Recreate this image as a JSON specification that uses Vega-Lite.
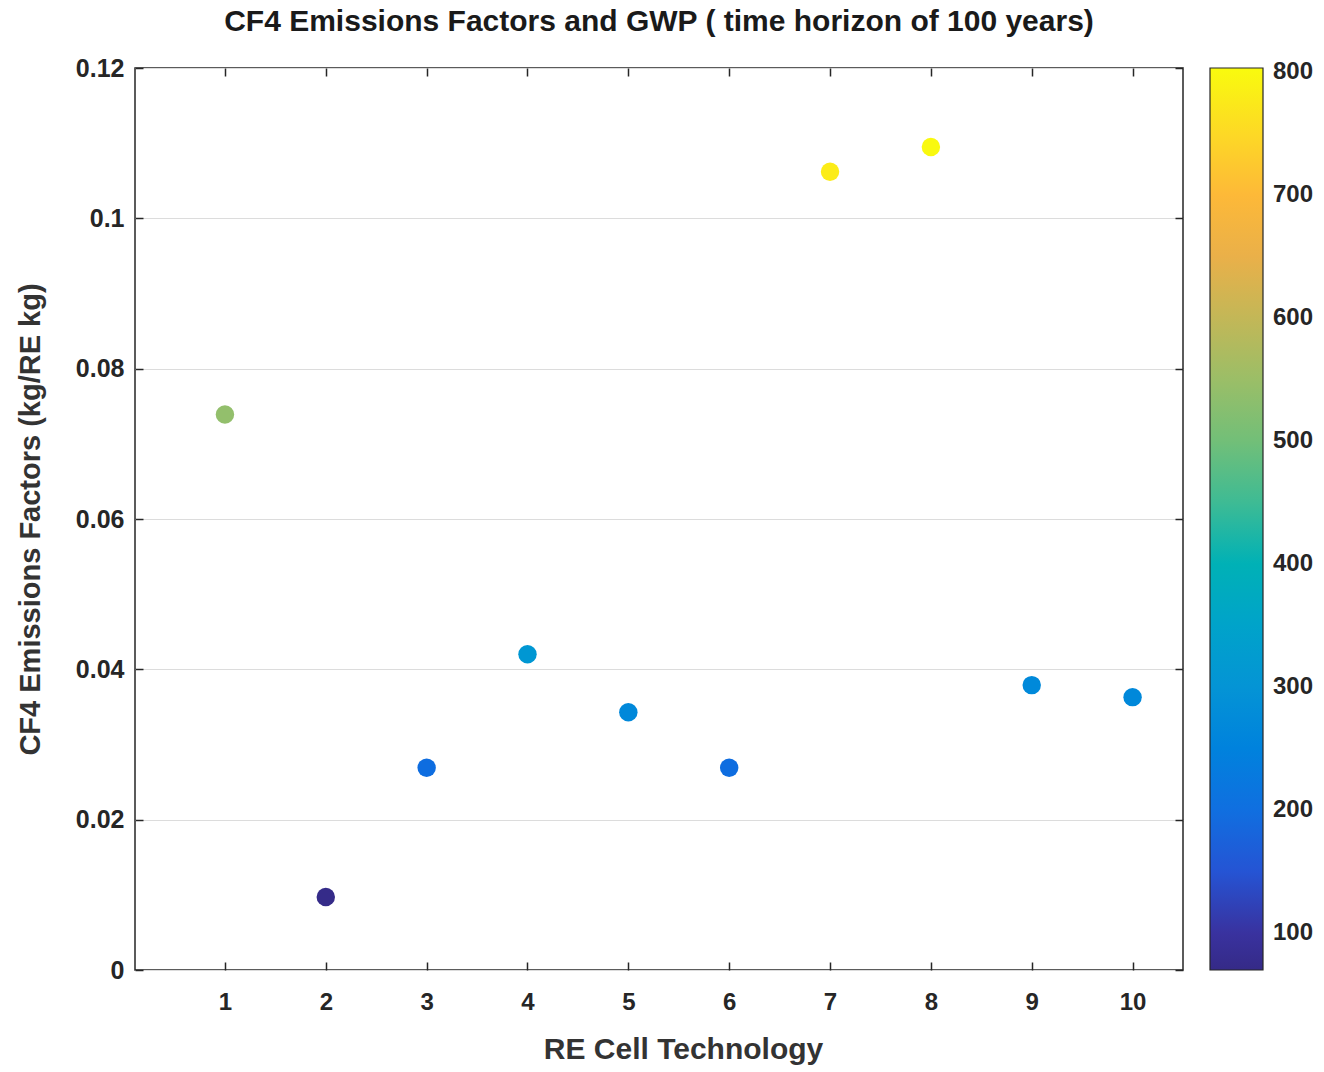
{
  "$schema": "https://vega.github.io/schema/vega-lite/v6.json",
  "autosize": {"type": "none"},
  "padding": {"left": 135, "top": 68, "right": 141, "bottom": 102},
  "width": 1048,
  "height": 902,
  "background": "white",
  "config": {
    "view": {"stroke": "#262626", "strokeWidth": 1.5},
    "font": "Liberation Sans"
  },
  "title": {
    "text": "CF4 Emissions Factors and GWP ( time horizon of 100 years)",
    "font": "Liberation Sans",
    "fontSize": 30,
    "fontWeight": "bold",
    "color": "#1a1a1a",
    "anchor": "middle",
    "offset": 19
  },
  "data": {
    "values": [
      {"tech": 1, "ef": 0.0739, "gwp": 540},
      {"tech": 2, "ef": 0.0097, "gwp": 72},
      {"tech": 3, "ef": 0.0269, "gwp": 195},
      {"tech": 4, "ef": 0.0420, "gwp": 310},
      {"tech": 5, "ef": 0.0343, "gwp": 265},
      {"tech": 6, "ef": 0.0269, "gwp": 195},
      {"tech": 7, "ef": 0.1062, "gwp": 780},
      {"tech": 8, "ef": 0.1095, "gwp": 800},
      {"tech": 9, "ef": 0.0379, "gwp": 268},
      {"tech": 10, "ef": 0.0363, "gwp": 265}
    ]
  },
  "resolve": {"axis": {"x": "independent", "y": "independent"}},
  "layer": [
    {
      "mark": {"type": "point", "filled": true, "opacity": 1, "size": 340, "shape": "circle", "strokeWidth": 0},
      "encoding": {
        "x": {
          "field": "tech", "type": "quantitative",
          "scale": {"domain": [0.108, 10.5], "nice": false, "zero": false},
          "axis": {
            "orient": "bottom",
            "values": [1, 2, 3, 4, 5, 6, 7, 8, 9, 10],
            "title": "RE Cell Technology",
            "titleFont": "Liberation Sans", "titleFontSize": 30, "titleFontWeight": "bold", "titleColor": "#333333",
            "titlePadding": 20,
            "titleX": 548,
            "labelFont": "Liberation Sans", "labelFontSize": 24, "labelFontWeight": "bold", "labelColor": "#262626",
            "labelPadding": 28,
            "tickSize": -8, "tickColor": "#262626", "tickWidth": 1.5,
            "domain": false, "grid": false
          }
        },
        "y": {
          "field": "ef", "type": "quantitative",
          "scale": {"domain": [0, 0.12], "nice": false, "zero": true},
          "axis": {
            "orient": "left",
            "values": [0, 0.02, 0.04, 0.06, 0.08, 0.1, 0.12],
            "labelExpr": "format(datum.value, '.2~f')",
            "title": "CF4 Emissions Factors (kg/RE kg)",
            "titleFont": "Liberation Sans", "titleFontSize": 29, "titleFontWeight": "bold", "titleColor": "#333333",
            "titlePadding": 30,
            "labelFont": "Liberation Sans", "labelFontSize": 25, "labelFontWeight": "bold", "labelColor": "#262626",
            "labelPadding": 19,
            "tickSize": -8, "tickColor": "#262626", "tickWidth": 1.5,
            "domain": false,
            "grid": true, "gridColor": "#dcdcdc", "gridWidth": 1.2
          }
        },
        "color": {
          "field": "gwp", "type": "quantitative",
          "scale": {
            "domain": [70, 111, 144, 168, 209, 290, 371, 436, 477, 534, 590, 647, 696, 737, 803],
            "range": ["#352a87", "#3a35a8", "#2a4fd0", "#0c62e0", "#1472e0", "#1790d6", "#14a9c4", "#30b89e", "#5cbf80", "#8ebf6f", "#bcb85b", "#e9b04a", "#fdb63a", "#fcd12a", "#f9fb0e"]
          },
          "legend": {
            "type": "gradient",
            "direction": "vertical",
            "orient": "none",
            "legendX": 1075,
            "legendY": 0,
            "gradientLength": 902,
            "gradientThickness": 53,
            "gradientStrokeColor": "#262626",
            "gradientStrokeWidth": 1.2,
            "values": [100, 200, 300, 400, 500, 600, 700, 800],
            "title": null,
            "labelFont": "Liberation Sans", "labelFontSize": 24, "labelFontWeight": "bold", "labelColor": "#262626",
            "labelOffset": 10
          }
        }
      }
    },
    {
      "mark": {"type": "point", "filled": true, "opacity": 0},
      "encoding": {
        "x": {
          "field": "tech", "type": "quantitative",
          "axis": {
            "orient": "top",
            "values": [1, 2, 3, 4, 5, 6, 7, 8, 9, 10],
            "title": null, "labels": false,
            "tickSize": -8, "tickColor": "#262626", "tickWidth": 1.5,
            "domain": false, "grid": false
          }
        },
        "y": {
          "field": "ef", "type": "quantitative",
          "axis": {
            "orient": "right",
            "values": [0, 0.02, 0.04, 0.06, 0.08, 0.1, 0.12],
            "title": null, "labels": false,
            "tickSize": -8, "tickColor": "#262626", "tickWidth": 1.5,
            "domain": false, "grid": false
          }
        }
      }
    }
  ]
}
